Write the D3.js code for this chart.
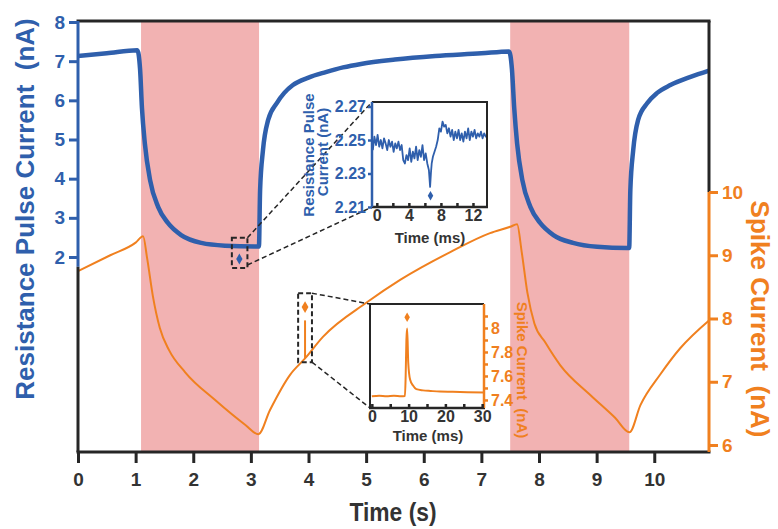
<!DOCTYPE html>
<html lang="en">
<head>
<meta charset="UTF-8">
<title>Resistance pulse and spike current</title>
<script src="https://cdn.jsdelivr.net/npm/d3@7/dist/d3.min.js"></script>
<style>
    body { margin: 0; background: #fff; }
    text { font-family: "Liberation Sans", Arial, sans-serif; font-weight: bold; }
</style>
</head>
<body>
<svg id="chart" width="778" height="529"></svg>
<script>
    // ---- data ----
    var bands = [[1.094, 3.142], [7.5, 9.566]];

    // resistance pulse current (nA), left axis
    var blueT = [0, 0.5, 1.03, 1.077, 1.11, 1.16, 1.25, 1.39, 1.56, 1.79, 2.14, 2.55, 3.07, 3.14,
        3.16, 3.21, 3.30, 3.45, 3.58, 3.73, 4.0, 4.3, 4.6, 4.91, 5.5, 6.2, 7.0, 7.48,
        7.53, 7.57, 7.62, 7.71, 7.85, 8.02, 8.25, 8.59, 9.01, 9.53, 9.565,
        9.585, 9.635, 9.72, 9.88, 10.05, 10.28, 10.63, 10.95];
    var blueV = [7.13, 7.2, 7.28, 6.8, 5.8, 4.9, 3.97, 3.28, 2.87, 2.56, 2.36, 2.29, 2.27, 2.27,
        3.71, 4.73, 5.5, 5.93, 6.19, 6.39, 6.58, 6.72, 6.84, 6.93, 7.04, 7.13, 7.2, 7.25,
        6.8, 5.8, 4.9, 3.97, 3.28, 2.87, 2.56, 2.36, 2.26, 2.23, 2.23,
        3.71, 4.73, 5.5, 5.93, 6.19, 6.39, 6.6, 6.76];

    // spike current (nA), right axis
    var orangeT = [0, 0.56, 1.0, 1.13, 1.2, 1.3, 1.42, 1.58, 1.86, 2.38, 2.90, 3.13, 3.33, 3.68,
        3.94, 4.25, 5.02, 5.59, 6.46, 7.15, 7.50, 7.62, 7.70, 7.80, 7.92, 8.11, 8.37,
        8.89, 9.32, 9.57, 9.76, 10.10, 10.45, 10.95];
    var orangeV = [8.75, 9.0, 9.2, 9.30, 8.95, 8.35, 7.85, 7.5, 7.15, 6.71, 6.32, 6.17, 6.55, 7.11,
        7.37, 7.71, 8.26, 8.61, 9.05, 9.35, 9.45, 9.49, 9.05, 8.4, 7.92, 7.62, 7.26,
        6.79, 6.43, 6.2, 6.63, 7.11, 7.53, 7.97];
    // the single spike picked out at about 3.94 s
    var spikeT = [3.94, 3.94];
    var spikeV = [7.37, 7.97];

    // inset 1: resistance pulse around the marked point (ms, nA)
    var in1T = [-0.5, -0.3, -0.1, 0.1, 0.3, 0.5, 0.7, 0.9, 1.1, 1.3, 1.5, 1.7, 1.9, 2.1, 2.3, 2.5,
        2.7, 2.9, 3.1, 3.3, 3.5, 3.7, 3.9, 4.1, 4.3, 4.5, 4.7, 4.9, 5.1, 5.3, 5.5, 5.7, 5.9, 6.1,
        6.3, 6.5, 6.65, 6.75, 6.85, 7.0, 7.2, 7.4, 7.6, 7.8, 8.0, 8.2, 8.4, 8.6, 8.8, 9.0, 9.2,
        9.4, 9.6, 9.8, 10.0, 10.2, 10.4, 10.6, 10.8, 11.0, 11.2, 11.4, 11.6, 11.8, 12.0, 12.2,
        12.4, 12.6, 12.8, 13.0, 13.2, 13.4, 13.6, 13.75];
    var in1V = [2.244, 2.252, 2.247, 2.253, 2.246, 2.250, 2.245, 2.251, 2.248, 2.244,
        2.250, 2.246, 2.249, 2.243, 2.248, 2.245, 2.249, 2.244, 2.247, 2.238,
        2.236, 2.241, 2.238, 2.245, 2.237, 2.243, 2.239, 2.246, 2.238, 2.244,
        2.240, 2.247, 2.238, 2.242, 2.236, 2.232, 2.222, 2.230, 2.236, 2.240,
        2.243, 2.246, 2.250, 2.257, 2.255, 2.261, 2.258, 2.259, 2.254, 2.257,
        2.252, 2.256, 2.250, 2.255, 2.251, 2.256, 2.250, 2.254, 2.249, 2.255,
        2.251, 2.257, 2.250, 2.255, 2.252, 2.256, 2.251, 2.254, 2.252, 2.255,
        2.251, 2.254, 2.252, 2.253];

    // inset 2: a single spike (ms, nA)
    var in2T = [0, 2, 4, 6, 8, 9.0, 9.2, 9.4, 9.6, 9.9, 10.4, 11.2, 12.1, 13.9, 16, 18.5, 22, 26, 30.5];
    var in2V = [7.43, 7.435, 7.43, 7.435, 7.43, 7.432, 7.6, 7.9, 7.995, 7.71, 7.57, 7.52, 7.49,
        7.48, 7.475, 7.47, 7.468, 7.465, 7.462];

    var xTicks = [0, 1, 2, 3, 4, 5, 6, 7, 8, 9, 10];
    var leftTicks = [2, 3, 4, 5, 6, 7, 8];
    var rightTicks = [6, 7, 8, 9, 10];
    var in1XTicks = [0, 2, 4, 6, 8, 10, 12];
    var in1YTicks = [2.21, 2.23, 2.25, 2.27];
    var in2XTicks = [0, 5, 10, 15, 20, 25, 30];
    var in2YTicks = [7.4, 7.5, 7.6, 7.7, 7.8, 7.9, 8.0, 8.1];

    var blueMark = {t: 2.8, v: 1.95};
    var orangeMark = {t: 3.94, v: 8.18};
    var in1Mark = {t: 6.7, v: 2.2167};
    var in2Mark = {t: 9.6, v: 8.09};

    // ---- layout ----
    var blue = "#2f5fac", orange = "#f0801f", pink = "#f2b2b2", dark = "#262626";
    var svg = d3.select("#chart");

    var x = d3.scaleLinear().domain([0, 10.95]).range([78, 709]);
    var yL = d3.scaleLinear().domain([2, 8]).range([257, 22]);
    var yR = d3.scaleLinear().domain([6, 10]).range([445, 192]);
    var plotTop = 21, plotBottom = 452;

    // shaded stimulus periods
    svg.selectAll("rect.band").data(bands).enter().append("rect")
        .attr("class", "band")
        .attr("x", function(d) { return x(d[0]); })
        .attr("width", function(d) { return x(d[1]) - x(d[0]); })
        .attr("y", plotTop).attr("height", plotBottom - plotTop)
        .attr("fill", pink);

    var blueLine = d3.line().curve(d3.curveMonotoneX)
        .x(function(d, i) { return x(blueT[i]); })
        .y(function(d) { return yL(d); });
    svg.append("path").attr("d", blueLine(blueV))
        .attr("fill", "none").attr("stroke", blue).attr("stroke-width", 4.5)
        .attr("stroke-linejoin", "round");

    var orangeLine = d3.line().curve(d3.curveMonotoneX)
        .x(function(d, i) { return x(orangeT[i]); })
        .y(function(d) { return yR(d); });
    svg.append("path").attr("d", orangeLine(orangeV))
        .attr("fill", "none").attr("stroke", orange).attr("stroke-width", 2);
    var spikeLine = d3.line()
        .x(function(d, i) { return x(spikeT[i]); })
        .y(function(d) { return yR(d); });
    svg.append("path").attr("d", spikeLine(spikeV))
        .attr("fill", "none").attr("stroke", orange).attr("stroke-width", 2);

    // frame
    function seg(x1, y1, x2, y2, col, w) {
        svg.append("line").attr("x1", x1).attr("y1", y1).attr("x2", x2).attr("y2", y2)
            .attr("stroke", col).attr("stroke-width", w || 3);
    }
    seg(76.5, plotTop, 710.5, plotTop, dark);
    seg(76.5, plotBottom, 710.5, plotBottom, dark);
    seg(78, plotTop, 78, yL(1.75), blue);
    seg(78, yL(1.75), 78, plotBottom, dark);
    seg(709, plotTop, 709, yR(10), dark);
    seg(709, yR(10), 709, plotBottom, orange);

    // axes
    var gx = svg.append("g")
        .attr("transform", "translate(0," + plotBottom + ")")
        .call(d3.axisBottom(x).tickValues(xTicks).tickSize(11).tickPadding(10));
    gx.select(".domain").remove();
    gx.selectAll("line").attr("stroke", dark).attr("stroke-width", 3);
    gx.selectAll("text").attr("fill", "#333").style("font-size", "19px");

    var gl = svg.append("g").attr("transform", "translate(78,0)")
        .call(d3.axisLeft(yL).tickValues(leftTicks).tickSize(9).tickPadding(4)
            .tickFormat(d3.format("d")));
    gl.select(".domain").remove();
    gl.selectAll("line").attr("stroke", blue).attr("stroke-width", 3);
    gl.selectAll("text").attr("fill", blue).style("font-size", "19px");

    var gr = svg.append("g").attr("transform", "translate(709,0)")
        .call(d3.axisRight(yR).tickValues(rightTicks).tickSize(9).tickPadding(4)
            .tickFormat(d3.format("d")));
    gr.select(".domain").remove();
    gr.selectAll("line").attr("stroke", orange).attr("stroke-width", 3);
    gr.selectAll("text").attr("fill", orange).style("font-size", "19px");

    // axis titles
    svg.append("text")
        .attr("x", 393).attr("y", 521).attr("text-anchor", "middle")
        .attr("textLength", 87).attr("lengthAdjust", "spacingAndGlyphs")
        .attr("fill", "#333").style("font-size", "26px").text("Time (s)");
    svg.append("text")
        .attr("transform", "translate(34,209) rotate(-90)").attr("text-anchor", "middle")
        .attr("fill", blue).style("font-size", "26px").style("white-space", "pre")
        .text("Resistance Pulse Current  (nA)");
    svg.append("text")
        .attr("transform", "translate(751,319) rotate(90)").attr("text-anchor", "middle")
        .attr("fill", orange).style("font-size", "26px").style("white-space", "pre")
        .text("Spike Current  (nA)");

    // zoom boxes and connectors
    var dash = "5,3";
    function dline(x1, y1, x2, y2) {
        svg.append("line").attr("x1", x1).attr("y1", y1).attr("x2", x2).attr("y2", y2)
            .attr("stroke", dark).attr("stroke-width", 1.5).attr("stroke-dasharray", dash);
    }
    function dbox(t0, t1, y0, y1) {
        svg.append("rect").attr("x", x(t0)).attr("y", y0)
            .attr("width", x(t1) - x(t0)).attr("height", y1 - y0)
            .attr("fill", "none").attr("stroke", dark).attr("stroke-width", 2)
            .attr("stroke-dasharray", dash);
    }
    var box1 = {t0: 2.67, t1: 2.94, y0: yL(2.49), y1: yL(1.72)};
    var box2 = {t0: 3.82, t1: 4.06, y0: yR(8.40), y1: yR(7.31)};
    dbox(box1.t0, box1.t1, box1.y0, box1.y1);
    dbox(box2.t0, box2.t1, box2.y0, box2.y1);

    var in1 = {l: 372, r: 487, t: 102, b: 207};
    var in2 = {l: 370, r: 484, t: 304, b: 408};
    dline(x(box1.t1), box1.y0, in1.l, in1.t);
    dline(x(box1.t1), box1.y1 - 3, in1.l, in1.b);
    dline(x(box2.t1), box2.y0, in2.l, in2.t);
    dline(x(box2.t1), box2.y1, in2.l, in2.b);

    var diamond = d3.symbol().type(d3.symbolDiamond);
    svg.append("path").attr("d", diamond.size(34)())
        .attr("transform", "translate(" + x(blueMark.t) + "," + yL(blueMark.v) + ")")
        .attr("fill", blue);
    svg.append("path").attr("d", diamond.size(40)())
        .attr("transform", "translate(" + x(orangeMark.t) + "," + yR(orangeMark.v) + ")")
        .attr("fill", orange);

    // ---- inset 1 ----
    var x1s = d3.scaleLinear().domain([-0.6, 13.75]).range([in1.l, in1.r]);
    var y1s = d3.scaleLinear().domain([2.21, 2.2727]).range([in1.b, in1.t]);
    svg.append("rect").attr("x", in1.l).attr("y", in1.t)
        .attr("width", in1.r - in1.l).attr("height", in1.b - in1.t).attr("fill", "#fff");
    var l1 = d3.line().x(function(d, i) { return x1s(in1T[i]); }).y(function(d) { return y1s(d); });
    svg.append("path").attr("d", l1(in1V)).attr("fill", "none")
        .attr("stroke", blue).attr("stroke-width", 1.8).attr("stroke-linejoin", "round");
    svg.append("path").attr("d", diamond.size(26)())
        .attr("transform", "translate(" + x1s(in1Mark.t) + "," + y1s(in1Mark.v) + ")")
        .attr("fill", blue);
    seg(in1.l, in1.t, in1.r + 1, in1.t, dark, 2);
    seg(in1.r, in1.t, in1.r, in1.b, dark, 2);
    seg(in1.l - 1, in1.b, in1.r + 1, in1.b, dark, 2.5);
    seg(in1.l, in1.t, in1.l, in1.b, blue, 2.5);
    var g1x = svg.append("g").attr("transform", "translate(0," + in1.b + ")")
        .call(d3.axisBottom(x1s).tickValues(in1XTicks).tickSize(-4).tickPadding(3)
            .tickFormat(function(d) { return d % 4 === 0 ? d : ""; }));
    g1x.select(".domain").remove();
    g1x.selectAll("line").attr("stroke", dark).attr("stroke-width", 2.5);
    g1x.selectAll("text").attr("fill", "#333").style("font-size", "16px");
    var g1y = svg.append("g").attr("transform", "translate(" + in1.l + ",0)")
        .call(d3.axisLeft(y1s).tickValues(in1YTicks).tickSize(4).tickPadding(2)
            .tickFormat(d3.format(".2f")));
    g1y.select(".domain").remove();
    g1y.selectAll("line").attr("stroke", blue).attr("stroke-width", 2.5);
    g1y.selectAll("text").attr("fill", blue).style("font-size", "16px");
    svg.append("text").attr("x", 430).attr("y", 243).attr("text-anchor", "middle")
        .attr("fill", "#333").style("font-size", "15px").text("Time (ms)");
    svg.append("text").attr("transform", "translate(314,155) rotate(-90)")
        .attr("text-anchor", "middle").attr("fill", blue).style("font-size", "15px")
        .text("Resistance Pulse");
    svg.append("text").attr("transform", "translate(328,152) rotate(-90)")
        .attr("text-anchor", "middle").attr("fill", blue).style("font-size", "15px")
        .text("Current (nA)");

    // ---- inset 2 ----
    var x2s = d3.scaleLinear().domain([-0.5, 30.5]).range([in2.l, in2.r]);
    var y2s = d3.scaleLinear().domain([7.333, 8.2]).range([in2.b, in2.t]);
    svg.append("rect").attr("x", in2.l).attr("y", in2.t)
        .attr("width", in2.r - in2.l).attr("height", in2.b - in2.t).attr("fill", "#fff");
    var l2 = d3.line().curve(d3.curveMonotoneX)
        .x(function(d, i) { return x2s(in2T[i]); }).y(function(d) { return y2s(d); });
    svg.append("path").attr("d", l2(in2V)).attr("fill", "none")
        .attr("stroke", orange).attr("stroke-width", 2);
    svg.append("path").attr("d", diamond.size(26)())
        .attr("transform", "translate(" + x2s(in2Mark.t) + "," + y2s(in2Mark.v) + ")")
        .attr("fill", orange);
    seg(in2.l - 1, in2.t, in2.r, in2.t, dark, 2);
    seg(in2.l, in2.t, in2.l, in2.b, dark, 2);
    seg(in2.l - 1, in2.b, in2.r + 1, in2.b, dark, 2.5);
    seg(in2.r, in2.t, in2.r, in2.b, orange, 2.5);
    var g2x = svg.append("g").attr("transform", "translate(0," + in2.b + ")")
        .call(d3.axisBottom(x2s).tickValues(in2XTicks).tickSize(-4).tickPadding(3)
            .tickFormat(function(d) { return d % 10 === 0 ? d : ""; }));
    g2x.select(".domain").remove();
    g2x.selectAll("line").attr("stroke", dark).attr("stroke-width", 2.5);
    g2x.selectAll("text").attr("fill", "#333").style("font-size", "16px");
    var g2y = svg.append("g").attr("transform", "translate(" + in2.r + ",0)")
        .call(d3.axisRight(y2s).tickValues(in2YTicks).tickSize(4).tickPadding(3)
            .tickFormat(function(d) { return Math.round(d * 10) % 2 === 0 ? d3.format("~g")(d) : ""; }));
    g2y.select(".domain").remove();
    g2y.selectAll("line").attr("stroke", orange).attr("stroke-width", 2.5);
    g2y.selectAll("text").attr("fill", orange).style("font-size", "16px");
    svg.append("text").attr("x", 428).attr("y", 441).attr("text-anchor", "middle")
        .attr("fill", "#333").style("font-size", "15px").text("Time (ms)");
    svg.append("text").attr("transform", "translate(517,370) rotate(90)")
        .attr("text-anchor", "middle").attr("fill", orange).style("font-size", "15px")
        .style("white-space", "pre").text("Spike Current  (nA)");
</script>
</body>
</html>
